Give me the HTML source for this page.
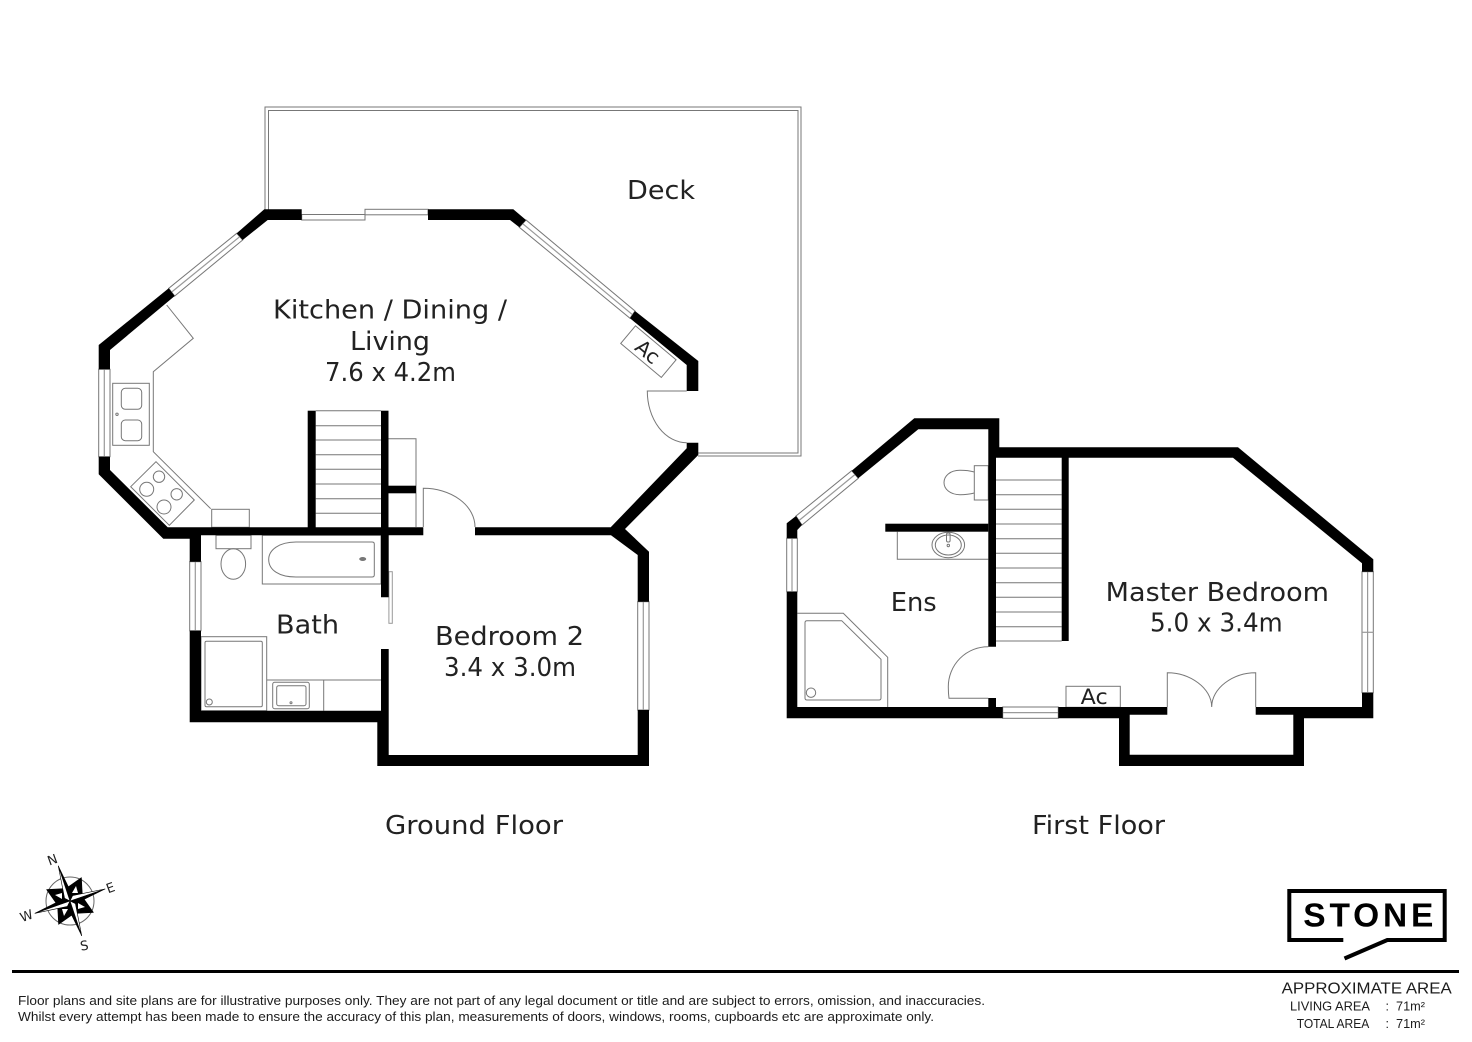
<!DOCTYPE html>
<html><head><meta charset="utf-8"><title>Floor plan</title>
<style>
html,body{margin:0;padding:0;background:#fff}
svg{display:block}
text{font-family:"Liberation Sans",sans-serif;fill:#1c1c1c}
.r{font-size:26px;font-family:"DejaVu Sans",sans-serif;fill:#222}
.d{font-family:"DejaVu Sans",sans-serif;fill:#222}
.l{fill:none;stroke:#777;stroke-width:1}
.w{fill:#fff;stroke:#777;stroke-width:1}
.c{fill:none;stroke:#999;stroke-width:1.2}
.k{fill:#000;stroke:none}
</style></head><body>
<svg width="1472" height="1042" viewBox="0 0 1472 1042" xmlns="http://www.w3.org/2000/svg">
<rect width="1472" height="1042" fill="#fff"/>

<!-- Deck -->
<path class="l" d="M265,210V107H801V456H698M268.5,210V110.5H798V453H698"/>

<!-- Ground floor windows -->
<polygon class="w" points="236.7,233.3 242.7,240 174.7,296 168.7,288.3"/>
<line class="c" x1="239.7" y1="236.7" x2="171.7" y2="292"/>
<polygon class="w" points="526,220 519.3,227.3 630,318.3 635,311"/>
<line class="c" x1="522.7" y1="223.7" x2="632.5" y2="314.7"/>
<rect class="w" x="98.7" y="369.3" width="11.3" height="87.4"/>
<line class="c" x1="104.3" y1="369.3" x2="104.3" y2="456.7"/>
<rect class="w" x="189.7" y="561.7" width="11.3" height="69"/>
<line class="c" x1="195.3" y1="561.7" x2="195.3" y2="630.7"/>
<rect class="w" x="637.7" y="601.7" width="11.3" height="108.3"/>
<line class="c" x1="643.3" y1="601.7" x2="643.3" y2="710"/>
<rect class="w" x="301.7" y="214.5" width="63.3" height="5.5"/>
<rect class="w" x="365" y="209.3" width="63" height="5.5"/>

<!-- Ground floor fittings -->
<path class="l" d="M166.7,305L193.3,338.3L153.3,371.7V451.7L210.7,508.7"/>
<rect class="l" x="211.7" y="509.3" width="37.6" height="18"/>
<rect class="l" x="112.7" y="383.3" width="36.6" height="62"/>
<rect class="l" x="121.3" y="388.3" width="20.4" height="21" rx="4"/>
<rect class="l" x="121.3" y="420" width="20.4" height="20.7" rx="4"/>
<circle class="l" cx="117" cy="414.3" r="1.2"/>
<polygon class="l" points="156,461.7 194.3,500 169.3,525.3 130.7,486.7"/>
<circle class="l" cx="159" cy="476.7" r="5.7"/>
<circle class="l" cx="146.7" cy="489.3" r="7"/>
<circle class="l" cx="176.7" cy="494.3" r="5.7"/>
<circle class="l" cx="164" cy="507" r="7"/>
<path class="l" d="M315.7,410.7H381M315.7,425.7H381M315.7,440H381M315.7,454.7H381M315.7,469.3H381M315.7,484H381M315.7,498.7H381M315.7,513.3H381"/>
<path class="l" d="M388,438.7H416V527"/>
<path class="l" d="M423.3,527V488.3A51.7,38.7 0 0 1 475,527"/>
<rect class="l" x="216" y="535.3" width="35" height="13.4"/>
<ellipse class="l" cx="233.3" cy="564" rx="12.3" ry="15.3"/>
<rect class="l" x="262.3" y="535.3" width="118.7" height="48.7"/>
<path class="l" d="M372,542H296C279,542 268.7,550 268.7,559.5C268.7,570 279,577 296,577H372Q374.3,577 374.3,575V544Q374.3,542 372,542Z"/>
<ellipse cx="362.7" cy="559" rx="3.5" ry="2" fill="#777"/>
<rect x="388.9" y="571.7" width="3.4" height="51.6" fill="#fff" stroke="#999" stroke-width="1"/>
<rect class="l" x="201" y="636.7" width="65.7" height="74"/>
<rect class="l" x="205" y="641.3" width="57.3" height="65.4" rx="1.5"/>
<circle class="l" cx="209.3" cy="702" r="3"/>
<path class="l" d="M266.7,680H381M323.7,680V710.7"/>
<rect class="l" x="272.7" y="682.3" width="36.6" height="26.4" rx="2"/>
<rect class="l" x="276.7" y="685.7" width="29.3" height="20" rx="2"/>
<circle class="l" cx="291" cy="702.7" r="1"/>
<path class="l" d="M686.7,391H647.3A39.4,51.7 0 0 0 686.7,442.7"/>
<g transform="translate(647.7,351.7) rotate(40)"><rect class="l" x="-26" y="-12" width="53" height="23"/></g>

<!-- Ground floor walls -->
<polygon class="k" points="264.3,209.3 301.7,209.3 301.7,220 267.7,220 242.7,240 236.7,233.3"/>
<polygon class="k" points="168.7,288.3 174.7,296 110,350 110,369.3 98.7,369.3 98.7,345"/>
<polygon class="k" points="428,209.3 513.3,209.3 526,220 519.3,227.3 510,220 428,220"/>
<polygon class="k" points="635,311 698.3,361 698.3,391 686.7,391 686.7,365 630,318.3"/>
<polygon class="k" points="698.3,442.7 686.7,442.7 686.7,448.3 610.7,527.3 475,527.3 475,535.3 611,535.3 637.7,555 637.7,601.7 649,601.7 649,551.7 625,529 698.3,455"/>
<polygon class="k" points="637.7,710 649,710 649,766 377.3,766 377.3,722.3 189.7,722.3 189.7,630.7 201,630.7 201,710.7 381,710.7 381,649 388.7,649 388.7,755 637.7,755"/>
<polygon class="k" points="98.7,456.7 110,456.7 110,470 167.7,527.3 423.3,527.3 423.3,535.3 388.7,535.3 388.7,597.3 381,597.3 381,535.3 201,535.3 201,561.7 189.7,561.7 189.7,538.7 163.3,538.7 98.7,474.3"/>
<rect class="k" x="307.7" y="410.7" width="8" height="117"/>
<rect class="k" x="381" y="410.7" width="7.5" height="117"/>
<rect class="k" x="388.3" y="485.7" width="27.7" height="7.6"/>

<!-- First floor windows -->
<polygon class="w" points="851.7,470.7 858.3,478.3 802,525 796,516"/>
<line class="c" x1="855" y1="474.5" x2="799" y2="520.5"/>
<rect class="w" x="786.7" y="538.3" width="10.6" height="53.4"/>
<line class="c" x1="792" y1="538.3" x2="792" y2="591.7"/>
<rect class="w" x="1002.7" y="707" width="55.6" height="11.3"/>
<line class="c" x1="1002.7" y1="712.6" x2="1058.3" y2="712.6"/>
<rect class="w" x="1362" y="571.7" width="11.3" height="121"/>
<line class="c" x1="1367.6" y1="571.7" x2="1367.6" y2="692.7"/>
<line class="c" x1="1362" y1="632.3" x2="1373.3" y2="632.3"/>

<!-- First floor fittings -->
<path class="l" d="M996,480H1061.7M996,494.7H1061.7M996,509.3H1061.7M996,524H1061.7M996,538.7H1061.7M996,553.3H1061.7M996,568H1061.7M996,582.7H1061.7M996,597.3H1061.7M996,612H1061.7M996,626.7H1061.7M996,641H1061.7"/>
<rect class="l" x="974.3" y="465.7" width="14" height="34.3"/>
<path class="l" d="M974.3,472C968,470.3 964,470.3 960,470.3C950,470.3 944,476 944,482.5C944,489 950,494.7 960,494.7C964,494.7 968,494.7 974.3,493"/>
<path class="l" d="M897.3,531.7V559.3H988.3"/>
<ellipse class="l" cx="948.3" cy="545" rx="16.3" ry="12.7"/>
<ellipse class="l" cx="948.3" cy="545" rx="13" ry="10"/>
<rect class="l" x="946.5" y="533" width="3.6" height="9" rx="1.5"/>
<circle class="l" cx="948.3" cy="545.5" r="1.2"/>
<path class="l" d="M797.3,613.3H843.3L887.7,657.3V707"/>
<path class="l" d="M807,620.7H841.7L881,659.3V698Q881,700 879,700H807Q805,700 805,698V622.7Q805,620.7 807,620.7Z"/>
<circle class="l" cx="811" cy="692.7" r="4.7"/>
<path class="l" d="M988.3,646.7A39.7,40 0 0 0 948.3,686.7Q948.3,693 949,698.3H988.3"/>
<rect class="l" x="1066" y="686.3" width="54.3" height="21"/>
<path class="l" d="M1167.3,707V672.7C1190,672.7 1211.7,688 1211.7,707C1211.7,688 1233,672.7 1255.7,672.7V707"/>

<!-- First floor walls -->
<polygon class="k" points="786.7,538.3 786.7,523.3 796,516 802,525 797.3,530 797.3,538.3"/>
<polygon class="k" points="851.7,470.7 914.3,418.3 999.3,418.3 999.3,447.3 1238,447.3 1373.3,559.3 1373.3,571.7 1362,571.7 1362,563.3 1233,457.7 1068.7,457.7 1068.7,641 1061.7,641 1061.7,457.7 996,457.7 996,646.7 988.3,646.7 988.3,429.3 918.3,429.3 858.3,478.3"/>
<polygon class="k" points="786.7,591.7 797.3,591.7 797.3,707 988.3,707 988.3,698 996,698 996,707 1002.7,707 1002.7,718.3 786.7,718.3"/>
<polygon class="k" points="1058.3,707 1167.3,707 1167.3,714.7 1129.7,714.7 1129.7,754.7 1293.3,754.7 1293.3,714.7 1255.7,714.7 1255.7,707 1362,707 1362,692.7 1373.3,692.7 1373.3,718.3 1304,718.3 1304,766 1119,766 1119,718.3 1058.3,718.3"/>
<rect class="k" x="885.3" y="523.7" width="103" height="8"/>

<!-- Labels -->
<text class="r" x="273" y="318.3" textLength="234" lengthAdjust="spacingAndGlyphs">Kitchen / Dining /</text>
<text class="r" x="350" y="350" textLength="80" lengthAdjust="spacingAndGlyphs">Living</text>
<text class="r" x="325" y="381" textLength="131" lengthAdjust="spacingAndGlyphs">7.6 x 4.2m</text>
<text class="r" x="627" y="199" textLength="68" lengthAdjust="spacingAndGlyphs">Deck</text>
<text class="r" x="276" y="633.3" textLength="63" lengthAdjust="spacingAndGlyphs">Bath</text>
<text class="r" x="435" y="645" textLength="149" lengthAdjust="spacingAndGlyphs">Bedroom 2</text>
<text class="r" x="444" y="676" textLength="132" lengthAdjust="spacingAndGlyphs">3.4 x 3.0m</text>
<text class="r" x="890.7" y="611" textLength="46" lengthAdjust="spacingAndGlyphs">Ens</text>
<text class="r" x="1105.7" y="601" textLength="223.3" lengthAdjust="spacingAndGlyphs">Master Bedroom</text>
<text class="r" x="1150" y="631.3" textLength="132.7" lengthAdjust="spacingAndGlyphs">5.0 x 3.4m</text>
<text class="r" x="385" y="834" textLength="178" lengthAdjust="spacingAndGlyphs">Ground Floor</text>
<text class="r" x="1032" y="834" textLength="133" lengthAdjust="spacingAndGlyphs">First Floor</text>
<text class="d" x="1080.7" y="704" font-size="21" textLength="27" lengthAdjust="spacingAndGlyphs">Ac</text>
<g transform="translate(647.7,351.7) rotate(40)"><text class="d" x="-12.5" y="7" font-size="20" textLength="25" lengthAdjust="spacingAndGlyphs">Ac</text></g>

<!-- Compass -->
<circle cx="70" cy="901" r="24" fill="none" stroke="#666" stroke-width="1"/>
<g stroke="#000" stroke-width=".6" stroke-linejoin="round">
<polygon fill="#000" points="81.4,877.6 65.8,888.6 70,901 82.4,896.8"/>
<polygon fill="#000" points="93.4,912.4 82.4,896.8 70,901 74.2,913.4"/>
<polygon fill="#000" points="58.6,924.4 74.2,913.4 70,901 57.6,905.2"/>
<polygon fill="#000" points="46.6,889.6 57.6,905.2 70,901 65.8,888.6"/>
<polygon fill="#fff" stroke="none" points="72,893 76,886 78,893"/>
<polygon fill="#fff" stroke="none" points="78,903 85,907 78,909"/>
<polygon fill="#fff" stroke="none" points="68,909 64,916 62,909"/>
<polygon fill="#fff" stroke="none" points="62,899 55,895 62,893"/>
<polygon fill="#000" points="70,901 58.3,866 72.6,895.6"/>
<polygon fill="#fff" points="70,901 58.3,866 64.6,898.4"/>
<polygon fill="#000" points="70,901 105,889 75.4,903.6"/>
<polygon fill="#fff" points="70,901 105,889 72.6,895.6"/>
<polygon fill="#000" points="70,901 81.7,935.7 67.4,906.4"/>
<polygon fill="#fff" points="70,901 81.7,935.7 75.4,903.6"/>
<polygon fill="#000" points="70,901 35,913.3 64.6,898.4"/>
<polygon fill="#fff" points="70,901 35,913.3 67.4,906.4"/>
</g>
<text class="d" x="0" y="0" font-size="13" text-anchor="middle" transform="translate(54,864) rotate(-20)">N</text>
<text class="d" x="0" y="0" font-size="13" text-anchor="middle" transform="translate(112,892) rotate(-20)">E</text>
<text class="d" x="0" y="0" font-size="13" text-anchor="middle" transform="translate(85,950) rotate(-10)">S</text>
<text class="d" x="0" y="0" font-size="13" text-anchor="middle" transform="translate(28,920) rotate(-20)">W</text>

<!-- Footer rule & disclaimer -->
<rect x="12" y="970" width="1447" height="3" fill="#000"/>
<text x="18" y="1005" font-size="12.5" textLength="967" lengthAdjust="spacingAndGlyphs">Floor plans and site plans are for illustrative purposes only. They are not part of any legal document or title and are subject to errors, omission, and inaccuracies.</text>
<text x="18" y="1021" font-size="12.5" textLength="916" lengthAdjust="spacingAndGlyphs">Whilst every attempt has been made to ensure the accuracy of this plan, measurements of doors, windows, rooms, cupboards etc are approximate only.</text>

<!-- Logo -->
<path d="M1343.3,940H1289.3V891H1444.7V940H1387.3L1344.5,958.5" fill="none" stroke="#000" stroke-width="4"/>
<text x="1303.3" y="926.7" font-size="33.5" font-weight="bold" textLength="130" style="fill:#000">STONE</text>

<!-- Area -->
<text x="1281.7" y="993.3" font-size="16" textLength="170" lengthAdjust="spacingAndGlyphs">APPROXIMATE AREA</text>
<text x="1290" y="1010.7" font-size="12.5" textLength="80" lengthAdjust="spacingAndGlyphs">LIVING  AREA</text>
<text x="1385.5" y="1010.7" font-size="12.5">:</text>
<text x="1396" y="1010.7" font-size="12.5" textLength="29" lengthAdjust="spacingAndGlyphs">71m²</text>
<text x="1296.7" y="1028" font-size="12.5" textLength="72.6" lengthAdjust="spacingAndGlyphs">TOTAL AREA</text>
<text x="1385.5" y="1028" font-size="12.5">:</text>
<text x="1396" y="1028" font-size="12.5" textLength="29" lengthAdjust="spacingAndGlyphs">71m²</text>
</svg>
</body></html>
